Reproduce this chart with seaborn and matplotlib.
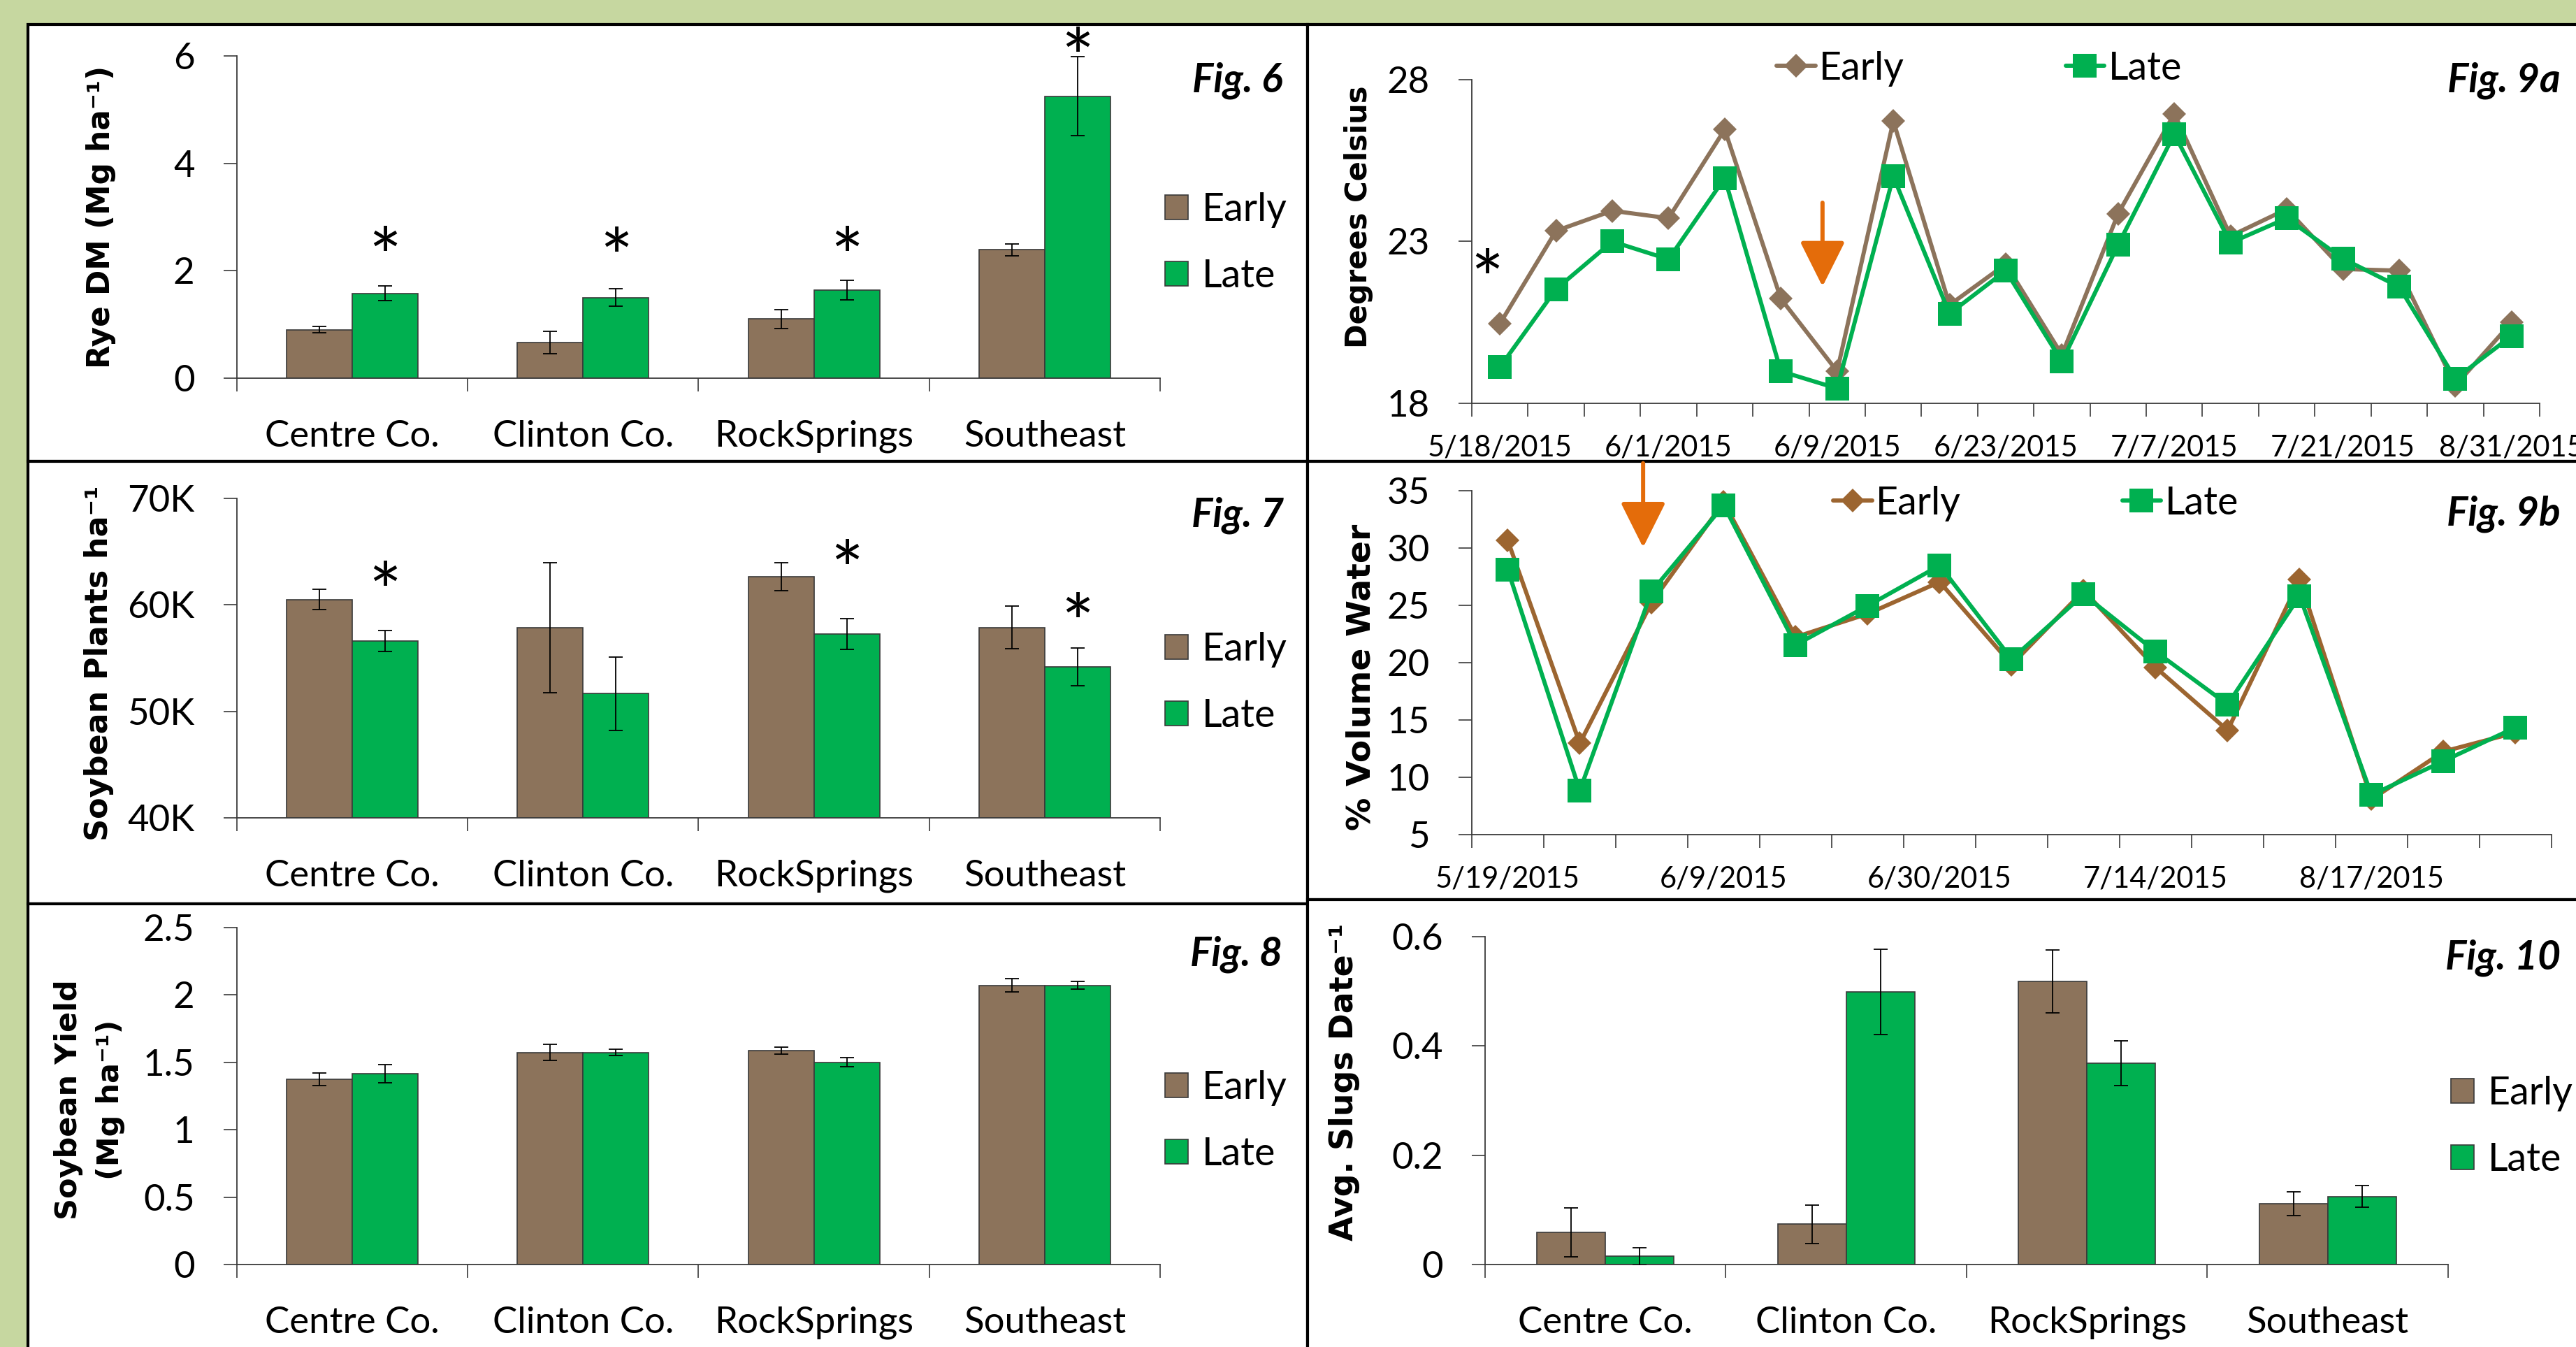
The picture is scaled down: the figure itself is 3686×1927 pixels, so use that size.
import numpy as np
import pandas as pd
import matplotlib
matplotlib.use("Agg")
import matplotlib.pyplot as plt
import seaborn as sns
from matplotlib.patches import Rectangle, Patch
from matplotlib.lines import Line2D
from matplotlib.transforms import ScaledTranslation

# ---------------- data ----------------
sites = ['Centre Co.', 'Clinton Co.', 'RockSprings', 'Southeast']
timing = ['Early', 'Late']

rye_early = [0.90, 0.66, 1.10, 2.39]
rye_late = [1.58, 1.50, 1.64, 5.25]
rye_early_se = [0.06, 0.21, 0.17, 0.11]
rye_late_se = [0.14, 0.16, 0.18, 0.74]
rye_star_y = [2.56, 2.54, 2.56, 6.26]

plants_early = [60500, 57870, 62650, 57870]
plants_late = [56600, 51670, 57270, 54170]
plants_early_se = [970, 6100, 1300, 2000]
plants_late_se = [1000, 3450, 1470, 1780]
plants_star_y = [62700, None, 64750, 59800]
plants_ticklabels = ['40K', '50K', '60K', '70K']

yield_early = [1.375, 1.574, 1.587, 2.072]
yield_late = [1.414, 1.574, 1.501, 2.072]
yield_early_se = [0.045, 0.06, 0.027, 0.048]
yield_late_se = [0.067, 0.024, 0.035, 0.03]
yield_ticklabels = ['0', '0.5', '1', '1.5', '2', '2.5']

slugs_early = [0.059, 0.074, 0.518, 0.111]
slugs_late = [0.015, 0.499, 0.369, 0.1245]
slugs_early_se = [0.045, 0.035, 0.058, 0.022]
slugs_late_se = [0.016, 0.078, 0.041, 0.0195]
slugs_ticklabels = ['0', '0.2', '0.4', '0.6']

temp_early = [20.46, 23.33, 23.95, 23.72, 26.46, 21.23, 18.99, 26.72, 21.04, 22.3,
              19.5, 23.86, 26.95, 23.17, 24.0, 22.15, 22.1, 18.55, 20.5]
temp_late = [19.12, 21.53, 23.0, 22.45, 24.96, 18.99, 18.46, 25.01, 20.77, 22.1,
             19.29, 22.9, 26.32, 22.96, 23.72, 22.47, 21.6, 18.76, 20.08]
temp_dates = ['5/18/2015', '6/1/2015', '6/9/2015', '6/23/2015', '7/7/2015', '7/21/2015', '8/31/2015']

water_early = [30.65, 12.96, 25.27, 34.0, 22.24, 24.26, 27.04, 19.83, 26.28, 19.58,
               14.1, 27.24, 8.08, 12.25, 13.9]
water_late = [28.1, 8.84, 26.23, 33.73, 21.55, 24.96, 28.48, 20.31, 25.95, 20.97,
              16.35, 25.82, 8.46, 11.42, 14.35]
water_dates = ['5/19/2015', '6/9/2015', '6/30/2015', '7/14/2015', '8/17/2015']

# ---------------- style ----------------
BG = '#C6D7A0'
BROWN = '#8C735B'
BROWN2 = '#9C6530'
GREEN = '#00B050'
ORANGE = '#E46C0A'
AXC = '#3a3a3a'

sns.set_theme(style='white')
plt.rcParams['font.family'] = ['Lato', 'DejaVu Sans']
plt.rcParams['text.color'] = 'black'
plt.rcParams['xtick.color'] = 'black'
plt.rcParams['ytick.color'] = 'black'

W, H = 3687, 1927
fig = plt.figure(figsize=(W / 100, H / 100), dpi=100, facecolor=BG)

TICK_FS = 38


def ax_at(l, r, t, b):
    return fig.add_axes([l / W, 1 - b / H, (r - l) / W, (b - t) / H])


def panel(x0, x1, y0, y1):
    fig.add_artist(Rectangle((x0 / W, 1 - y1 / H), (x1 - x0) / W, (y1 - y0) / H,
                             transform=fig.transFigure, facecolor='white',
                             edgecolor='black', lw=3, zorder=-1))


def style_axes(ax, n, ylim, yticks, yticklabels):
    ax.set_facecolor('none')
    ax.set_xlim(-0.5, n - 0.5)
    ax.set_ylim(*ylim)
    ax.set_yticks(yticks)
    ax.set_yticklabels(yticklabels)
    for s in ['top', 'right']:
        ax.spines[s].set_visible(False)
    for s in ['left', 'bottom']:
        ax.spines[s].set_color(AXC)
        ax.spines[s].set_linewidth(1.3)
    ax.set_xticks(np.arange(-0.5, n, 1), minor=True)
    ax.tick_params(axis='x', which='minor', length=13.5, width=1.2, color=AXC, direction='out', bottom=True)
    ax.tick_params(axis='y', which='major', length=13.5, width=1.2, color=AXC, direction='out',
                   left=True, pad=30, labelsize=TICK_FS)
    ax.set_xlabel('')
    ax.set_ylabel('')


def ylabel(ax, text, x_px, l_px, r_px, yfrac=0.5, size=32, **kw):
    ax.text((x_px - l_px) / (r_px - l_px), yfrac, text, transform=ax.transAxes, rotation=90,
            ha='center', va='center', fontsize=size, fontweight='bold',
            family=['DejaVu Sans'], **kw)


def fig_label(text, x_px, y_px):
    fig.text(x_px / W, 1 - y_px / H, text, ha='right', va='center', fontsize=41,
             fontweight='bold', style='italic')


def star(ax, x, y, size=80):
    off = ScaledTranslation(0, -0.56 * size / 72, fig.dpi_scale_trans)
    ax.text(x, y, '*', transform=ax.transData + off, ha='center', va='baseline',
            fontsize=size, color='black', clip_on=False)


def bar_panel(ax, early, late, e_se, l_se):
    df = pd.DataFrame({'Site': sites * 2,
                       'Timing': ['Early'] * len(sites) + ['Late'] * len(sites),
                       'Value': list(early) + list(late)})
    sns.barplot(data=df, x='Site', y='Value', hue='Timing', order=sites, hue_order=timing,
                palette=[BROWN, GREEN], saturation=1, width=0.57, gap=0,
                edgecolor=AXC, linewidth=1.2, errorbar=None, legend=False, ax=ax)
    for cont, se in zip(ax.containers, [e_se, l_se]):
        xs = [p.get_x() + p.get_width() / 2 for p in cont]
        hs = [p.get_height() for p in cont]
        ax.errorbar(xs, hs, yerr=se, fmt='none', ecolor='black', elinewidth=1.3,
                    capsize=7, capthick=1.3, zorder=5)
    ax.tick_params(axis='x', which='major', length=0, pad=43, labelsize=TICK_FS)


def bar_legend(ax, x_px, y_px):
    handles = [Patch(facecolor=BROWN, edgecolor=AXC, lw=1.2),
               Patch(facecolor=GREEN, edgecolor=AXC, lw=1.2)]
    ax.legend(handles, timing, loc='center left', bbox_to_anchor=(x_px / W, 1 - y_px / H),
              bbox_transform=fig.transFigure, frameon=False, borderpad=0, borderaxespad=0,
              handlelength=0.6, handleheight=0.6, handletextpad=0.35, labelspacing=0.8,
              fontsize=40)


def line_panel(ax, early, late, ecol, dates):
    idx = np.arange(len(early))
    sns.lineplot(x=idx, y=early, color=ecol, lw=4.3, marker='D', markersize=17,
                 markeredgewidth=0, clip_on=False, ax=ax)
    sns.lineplot(x=idx, y=late, color=GREEN, lw=4.3, marker='s', markersize=24,
                 markeredgewidth=0, clip_on=False, ax=ax)
    ax.set_xticks(np.arange(0, len(early), 3))
    ax.set_xticklabels(dates)
    ax.tick_params(axis='x', which='major', length=0, pad=32, labelsize=30)


def line_legend(ax, ecol, x_px, y_px):
    handles = [Line2D([], [], color=ecol, lw=4.3, marker='D', ms=17, mew=0),
               Line2D([], [], color=GREEN, lw=4.3, marker='s', ms=24, mew=0)]
    ax.legend(handles, timing, ncol=2, loc='center left',
              bbox_to_anchor=(x_px / W, 1 - y_px / H), bbox_transform=fig.transFigure,
              frameon=False, borderpad=0, borderaxespad=0, handlelength=1.0,
              handletextpad=0.1, columnspacing=4.15, fontsize=40)


# ---------------- panels (white boxes) ----------------
panel(40, 1871, 35, 660)
panel(40, 1871, 660, 1293)
panel(40, 1871, 1293, 1990)
panel(1871, 3760, 35, 660)
panel(1871, 3760, 660, 1287)
panel(1871, 3760, 1287, 1990)

LL, LR = 339, 1660

# Fig 6
ax6 = ax_at(LL, LR, 80, 541)
bar_panel(ax6, rye_early, rye_late, rye_early_se, rye_late_se)
style_axes(ax6, 4, (0, 6), [0, 2, 4, 6], ['0', '2', '4', '6'])
for i, sy in enumerate(rye_star_y):
    star(ax6, i + 0.1425, sy)
bar_legend(ax6, 1667, 348)
ylabel(ax6, 'Rye DM (Mg ha\u207b\u00b9)', 144, LL, LR, 0.5, 31.5)
fig_label('Fig. 6', 1835, 115)

# Fig 7
ax7 = ax_at(LL, LR, 713, 1170)
bar_panel(ax7, plants_early, plants_late, plants_early_se, plants_late_se)
style_axes(ax7, 4, (40000, 70000), [40000, 50000, 60000, 70000], plants_ticklabels)
for i, sy in enumerate(plants_star_y):
    if sy is not None:
        star(ax7, i + 0.1425, sy)
bar_legend(ax7, 1667, 977)
ylabel(ax7, 'Soybean Plants ha\u207b\u00b9', 141, LL, LR, 0.484, 32)
fig_label('Fig. 7', 1837, 737)

# Fig 8
ax8 = ax_at(LL, LR, 1327, 1809)
bar_panel(ax8, yield_early, yield_late, yield_early_se, yield_late_se)
style_axes(ax8, 4, (0, 2.5), [0, 0.5, 1, 1.5, 2, 2.5], yield_ticklabels)
bar_legend(ax8, 1667, 1604)
ylabel(ax8, 'Soybean Yield\n(Mg ha\u207b\u00b9)', 128, LL, LR, 0.49, 31, linespacing=1.55,
       multialignment='center')
fig_label('Fig. 8', 1835, 1365)

# Fig 9a
ax9a = ax_at(2106, 3634, 114, 577)
line_panel(ax9a, temp_early, temp_late, BROWN, temp_dates)
style_axes(ax9a, len(temp_early), (18, 28), [18, 23, 28], ['18', '23', '28'])
line_legend(ax9a, BROWN, 2542, 98)
ylabel(ax9a, 'Degrees Celsius', 1944, 2106, 3634, 0.577, 30)
fig_label('Fig. 9a', 3664, 115)
star(ax9a, -0.23, 22.32)
ax9a.annotate('', xy=(5.74, 21.61), xytext=(5.74, 24.2), annotation_clip=False,
              arrowprops=dict(arrowstyle='-|>,head_length=2.0,head_width=1.0',
                              color=ORANGE, lw=4.3, shrinkA=0, shrinkB=0,
                              mutation_scale=20))

# Fig 9b
ax9b = ax_at(2106, 3651, 702, 1194)
line_panel(ax9b, water_early, water_late, BROWN2, water_dates)
style_axes(ax9b, len(water_early), (5, 35), [5, 10, 15, 20, 25, 30, 35],
           ['5', '10', '15', '20', '25', '30', '35'])
line_legend(ax9b, BROWN2, 2623, 720)
ylabel(ax9b, '% Volume Water', 1948, 2106, 3651, 0.457, 34)
fig_label('Fig. 9b', 3664, 735)
ax9b.annotate('', xy=(1.88, 30.05), xytext=(1.88, 37.4), annotation_clip=False,
              arrowprops=dict(arrowstyle='-|>,head_length=2.0,head_width=1.0',
                              color=ORANGE, lw=4.3, shrinkA=0, shrinkB=0,
                              mutation_scale=20))

# Fig 10
ax10 = ax_at(2125, 3503, 1340, 1809)
bar_panel(ax10, slugs_early, slugs_late, slugs_early_se, slugs_late_se)
style_axes(ax10, 4, (0, 0.6), [0, 0.2, 0.4, 0.6], slugs_ticklabels)
bar_legend(ax10, 3507, 1612)
ylabel(ax10, 'Avg. Slugs Date\u207b\u00b9', 1924, 2125, 3503, 0.556, 33)
fig_label('Fig. 10', 3664, 1370)

fig.savefig('out.png', dpi=100, facecolor=BG)
